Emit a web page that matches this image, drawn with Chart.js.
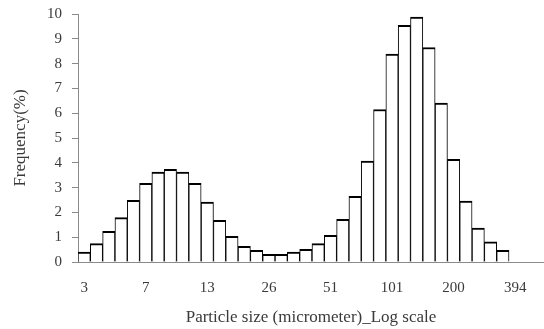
<!DOCTYPE html>
<html>
<head>
<meta charset="utf-8">
<script src="https://cdn.jsdelivr.net/npm/chart.js@4/dist/chart.umd.min.js"></script>
<style>
  html, body { margin: 0; padding: 0; background: #fff; }
  #wrap { width: 544px; height: 329px; position: relative; }
</style>
</head>
<body>
<div id="wrap"><canvas id="hist"></canvas></div>
<script>
// tick labels under every 5th bin (micrometer, log scale)
const binLabels = ['3', '7', '13', '26', '51', '101', '200', '394'];
// frequency (%) for each bin
const freq = [0.40, 0.74, 1.24, 1.79, 2.49, 3.17, 3.63, 3.74, 3.63, 3.17,
              2.42, 1.68, 1.04, 0.63, 0.47, 0.31, 0.31, 0.40, 0.51, 0.74,
              1.08, 1.72, 2.65, 4.07, 6.15, 8.38, 9.54, 9.88, 8.65, 6.41,
              4.14, 2.46, 1.37, 0.81, 0.47];
const yTicks = [0, 1, 2, 3, 4, 5, 6, 7, 8, 9, 10];

const serif = "'Liberation Serif', 'Times New Roman', serif";
const axisGray = '#8a8a8a';
const textCol = '#3a3a3a';

Chart.defaults.font.family = serif;
Chart.defaults.font.size = 15;
Chart.defaults.color = textCol;

new Chart(document.getElementById('hist'), {
    type: 'bar',
    data: {
        datasets: [{
            data: freq.map((v, i) => ({ x: i, y: v })),
            backgroundColor: '#ffffff',
            borderColor: '#000000',
            borderWidth: { top: 2, left: 1, right: 1, bottom: 0 },
            borderSkipped: false,
            categoryPercentage: 1,
            barPercentage: 1
        }]
    },
    options: {
        responsive: true,
        maintainAspectRatio: false,
        animation: false,
        layout: { padding: { top: 14, right: 0, bottom: 0, left: 0 } },
        plugins: { legend: { display: false }, tooltip: { enabled: false } },
        scales: {
            x: {
                type: 'linear',
                min: -0.5,
                max: 37.34,
                offset: false,
                grid: { display: false, drawTicks: false, offset: false },
                border: { display: true, color: axisGray, width: 1 },
                afterBuildTicks: s => { s.ticks = binLabels.map((_, k) => ({ value: k * 5 })); },
                afterFit: s => { s.height = 67; },
                ticks: {
                    autoSkip: false,
                    maxRotation: 0,
                    padding: 17,
                    callback: v => binLabels[v / 5] ?? ''
                },
                title: {
                    display: true,
                    text: 'Particle size (micrometer)_Log scale',
                    color: textCol,
                    font: { size: 17 },
                    padding: { top: 10, bottom: 1 }
                }
            },
            y: {
                min: 0,
                max: 10,
                afterBuildTicks: s => { s.ticks = yTicks.map(v => ({ value: v })); },
                afterFit: s => { s.width = 78; s.paddingTop = 0; s.paddingBottom = 0; },
                grid: { drawOnChartArea: false, drawTicks: true, tickLength: 6, color: axisGray },
                border: { display: true, color: axisGray, width: 1 },
                ticks: { padding: 10 },
                title: {
                    display: true,
                    text: 'Frequency(%)',
                    color: textCol,
                    font: { size: 17 },
                    padding: { top: 10, bottom: 10 }
                }
            }
        }
    }
});
</script>
</body>
</html>
